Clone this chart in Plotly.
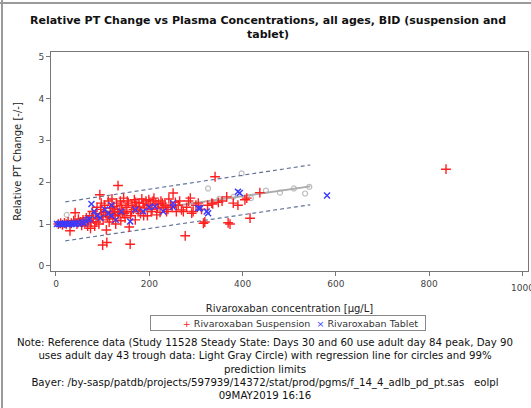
import plotly.graph_objects as go

# ---- data ----
susp_x = [5, 10, 14, 18, 22, 26, 30, 33, 38, 41, 45, 48, 52, 55, 58, 62, 65, 68, 70,
          72, 74, 75, 78, 80, 83, 85, 86, 88, 90, 92, 94, 96, 97, 98, 100, 101, 102, 104, 106, 108, 109, 110,
          112, 114, 115, 116, 118, 120, 121, 122, 124, 126, 127, 128, 130, 132, 133, 135, 137, 138, 139, 141, 143,
          145, 146, 148, 150, 152, 153, 155, 157, 159, 160, 162, 163, 166, 168, 170, 171, 173, 176, 178, 179, 181,
          184, 187, 188, 190, 193, 195, 196, 199, 202, 204, 206, 208, 210, 214, 216, 218, 220, 223, 225, 228, 230,
          234, 237, 240, 242, 246, 249, 251, 256, 258, 262, 265, 269, 273, 277, 280, 284, 288, 291, 294, 300,
          305, 312, 316, 319, 325, 334, 336, 341, 348, 356, 366, 369, 373, 380, 390, 405, 409, 416, 437, 836]
susp_y = [1.0, 1.02, 0.98, 1.03, 1.0, 1.05, 0.84, 1.02, 1.08, 1.27, 1.0, 1.12, 1.05, 0.97, 1.10, 1.0, 1.15, 0.95, 1.08,
          1.2, 0.9, 1.05, 1.3, 1.12, 0.95, 1.25, 1.05, 1.4, 1.15, 1.0, 1.7, 1.35, 1.5, 1.22, 0.5, 1.1, 1.28, 1.45, 1.3, 0.86, 0.56, 1.18,
          1.55, 1.05, 1.15, 1.38, 1.25, 1.6, 1.38, 1.12, 1.42, 1.3, 1.2, 1.0, 1.5, 1.28, 1.92, 1.22, 1.35, 1.55, 1.08, 1.45, 1.28,
          1.62, 1.25, 1.15, 1.4, 1.3, 1.55, 1.5, 0.93, 0.52, 1.2, 1.3, 1.45, 1.35, 1.58, 1.1, 1.52, 1.42, 1.3, 1.5, 1.4, 1.25,
          1.6, 1.5, 1.2, 1.38, 1.55, 1.45, 1.2, 1.58, 1.45, 1.3, 1.35, 1.55, 1.62, 1.5, 1.22, 1.38, 1.48, 1.28, 1.55, 1.5, 1.4,
          1.45, 1.3, 1.35, 1.6, 1.45, 1.4, 1.74, 1.52, 1.3, 1.45, 1.55, 1.34, 1.3, 0.72, 1.4, 1.55, 1.62, 1.26, 1.3, 1.45,
          1.5, 1.35, 1.02, 1.05, 1.45, 1.5, 1.48, 2.13, 1.52, 1.55, 1.65, 1.03, 1.0, 1.5, 1.45, 1.58, 1.62, 1.14, 1.75, 2.31]

tab_x = [2, 6, 9, 12, 15, 19, 23, 27, 31, 35, 39, 43, 47, 51, 56, 60, 64, 68, 72, 76, 82, 88,
         95, 105, 112, 119, 119, 128, 140, 159, 170, 187, 200, 212, 230, 251, 251, 305, 309,
         323, 326, 390, 394, 581]
tab_y = [1.0, 1.0, 1.01, 0.99, 1.0, 1.02, 1.0, 0.99, 1.01, 1.0, 1.02, 1.0, 1.03, 1.0, 1.05, 1.02, 1.06, 1.1, 1.12, 1.48, 1.3, 1.2,
         1.15, 1.35, 1.25, 1.45, 1.2, 1.1, 1.3, 1.06, 1.35, 1.3, 1.4, 1.42, 1.3, 1.41, 1.5, 1.38, 1.38,
         1.3, 1.26, 1.77, 1.74, 1.68]

ref_x = [23, 40, 60, 85, 110, 140, 170, 200, 230, 260, 290, 326, 350, 380, 398, 418, 450, 480, 510, 534, 543]
ref_y = [1.22, 1.05, 1.1, 1.2, 1.25, 1.3, 1.35, 1.4, 1.45, 1.5, 1.45, 1.85, 1.6, 1.65, 2.21, 1.62, 1.8, 1.75, 1.85, 1.73, 1.89]

line_x = [20, 545]
fit_y = [1.06, 1.90]
lower_y = [0.60, 1.46]
upper_y = [1.53, 2.41]

x_ticks = [0, 200, 400, 600, 800, 1000]
y_ticks = [0, 1, 2, 3, 4, 5]

legend_names = ["Rivaroxaban Suspension", "Rivaroxaban Tablet"]
SUSP_C = "#ff2020"
TAB_C = "#3a3aff"

FONT = "DejaVu Sans, Verdana, sans-serif"
AXC = "#777777"

fig = go.Figure()
fig.add_trace(go.Scatter(x=ref_x, y=ref_y, mode="markers", showlegend=False,
                         marker=dict(symbol="circle-open", size=5, color="#bdbdbd", line=dict(width=1.2))))
fig.add_trace(go.Scatter(x=line_x, y=fit_y, mode="lines", showlegend=False,
                         line=dict(color="#ababab", width=2)))
fig.add_trace(go.Scatter(x=line_x, y=upper_y, mode="lines", showlegend=False,
                         line=dict(color="#627499", width=1.2, dash="4px,3px")))
fig.add_trace(go.Scatter(x=line_x, y=lower_y, mode="lines", showlegend=False,
                         line=dict(color="#627499", width=1.2, dash="4px,3px")))
fig.add_trace(go.Scatter(x=susp_x, y=susp_y, mode="markers", name=legend_names[0], showlegend=False,
                         marker=dict(symbol="cross-thin", size=7, color=SUSP_C,
                                     line=dict(width=1.4, color=SUSP_C))))
fig.add_trace(go.Scatter(x=tab_x, y=tab_y, mode="markers", name=legend_names[1], showlegend=False,
                         marker=dict(symbol="x-thin", size=6, color=TAB_C,
                                     line=dict(width=1.4, color=TAB_C))))

W, H = 531, 408
L, R, T, B = 51, 3, 52, 137
pw, ph = W - L - R, H - T - B


def px(xp):
    return (xp - L) / pw


def py(yp):
    return (H - B - yp) / ph


fig.update_layout(
    width=W, height=H,
    margin=dict(l=L, r=R, t=T, b=B),
    paper_bgcolor="white", plot_bgcolor="white",
    font=dict(family=FONT, size=10, color="#222222"),
    xaxis=dict(range=[-10.7, 1011.8], tickvals=x_ticks, ticks="outside", ticklen=4,
               tickcolor=AXC, showline=True, linecolor=AXC, linewidth=1, mirror=True,
               showgrid=False, zeroline=False, tickfont=dict(size=9, color="#444444"),
               title=dict(text="Rivaroxaban concentration [µg/L]", font=dict(size=10), standoff=17)),
    yaxis=dict(range=[-0.12, 5.107], tickvals=y_ticks, ticks="outside", ticklen=4,
               tickcolor=AXC, showline=True, linecolor=AXC, linewidth=1, mirror=True,
               showgrid=False, zeroline=False, tickfont=dict(size=9, color="#444444"),
               title=dict(text="Relative PT Change [-/-]", font=dict(size=10), standoff=14)),
    showlegend=False,
)

# last x tick label (cut at the right edge as in the reference)
fig.add_annotation(xref="x", yref="paper", x=1000, y=py(281), xanchor="center", yanchor="top",
                   text="1000", showarrow=False, font=dict(size=9, color="#444444"))

# legend box
legend_text = (f"<span style='color:{SUSP_C}'>+</span> {legend_names[0]}&nbsp;&nbsp;"
               f"<span style='color:{TAB_C}'>×</span> {legend_names[1]}&nbsp;&nbsp;")
fig.add_annotation(xref="paper", yref="paper", x=px(288), y=py(323), xanchor="center", yanchor="middle",
                   text=legend_text, showarrow=False, width=272, height=12, align="right",
                   bordercolor="#888888", borderwidth=1, borderpad=1,
                   font=dict(size=9.5, color="#333333"))

fig.add_annotation(xref="paper", yref="paper", x=px(267.5), y=py(12), xanchor="center", yanchor="top",
                   text="<b>Relative PT Change vs Plasma Concentrations, all ages, BID (suspension and<br>tablet)</b>",
                   showarrow=False, font=dict(size=11, color="#111111"), align="center")

note = ("Note: Reference data (Study 11528 Steady State: Days 30 and 60 use adult day 84 peak, Day 90<br>"
        "uses adult day 43 trough data: Light Gray Circle) with regression line for circles and 99%<br>"
        "prediction limits<br>"
        "Bayer: /by-sasp/patdb/projects/597939/14372/stat/prod/pgms/f_14_4_adlb_pd_pt.sas   eolpl<br>"
        "09MAY2019 16:16")
fig.add_annotation(xref="paper", yref="paper", x=px(265), y=py(335), xanchor="center", yanchor="top",
                   text=note, showarrow=False, font=dict(size=10.2, color="#111111"), align="center")

# outer frame (left and top edges visible)
fig.add_shape(type="line", xref="paper", yref="paper", x0=px(2), x1=px(2), y0=py(0), y1=py(408),
              line=dict(color="#9a9a9a", width=2))
fig.add_shape(type="line", xref="paper", yref="paper", x0=px(0), x1=px(531), y0=py(3), y1=py(3),
              line=dict(color="#9a9a9a", width=2))

fig.write_html("out.html")
